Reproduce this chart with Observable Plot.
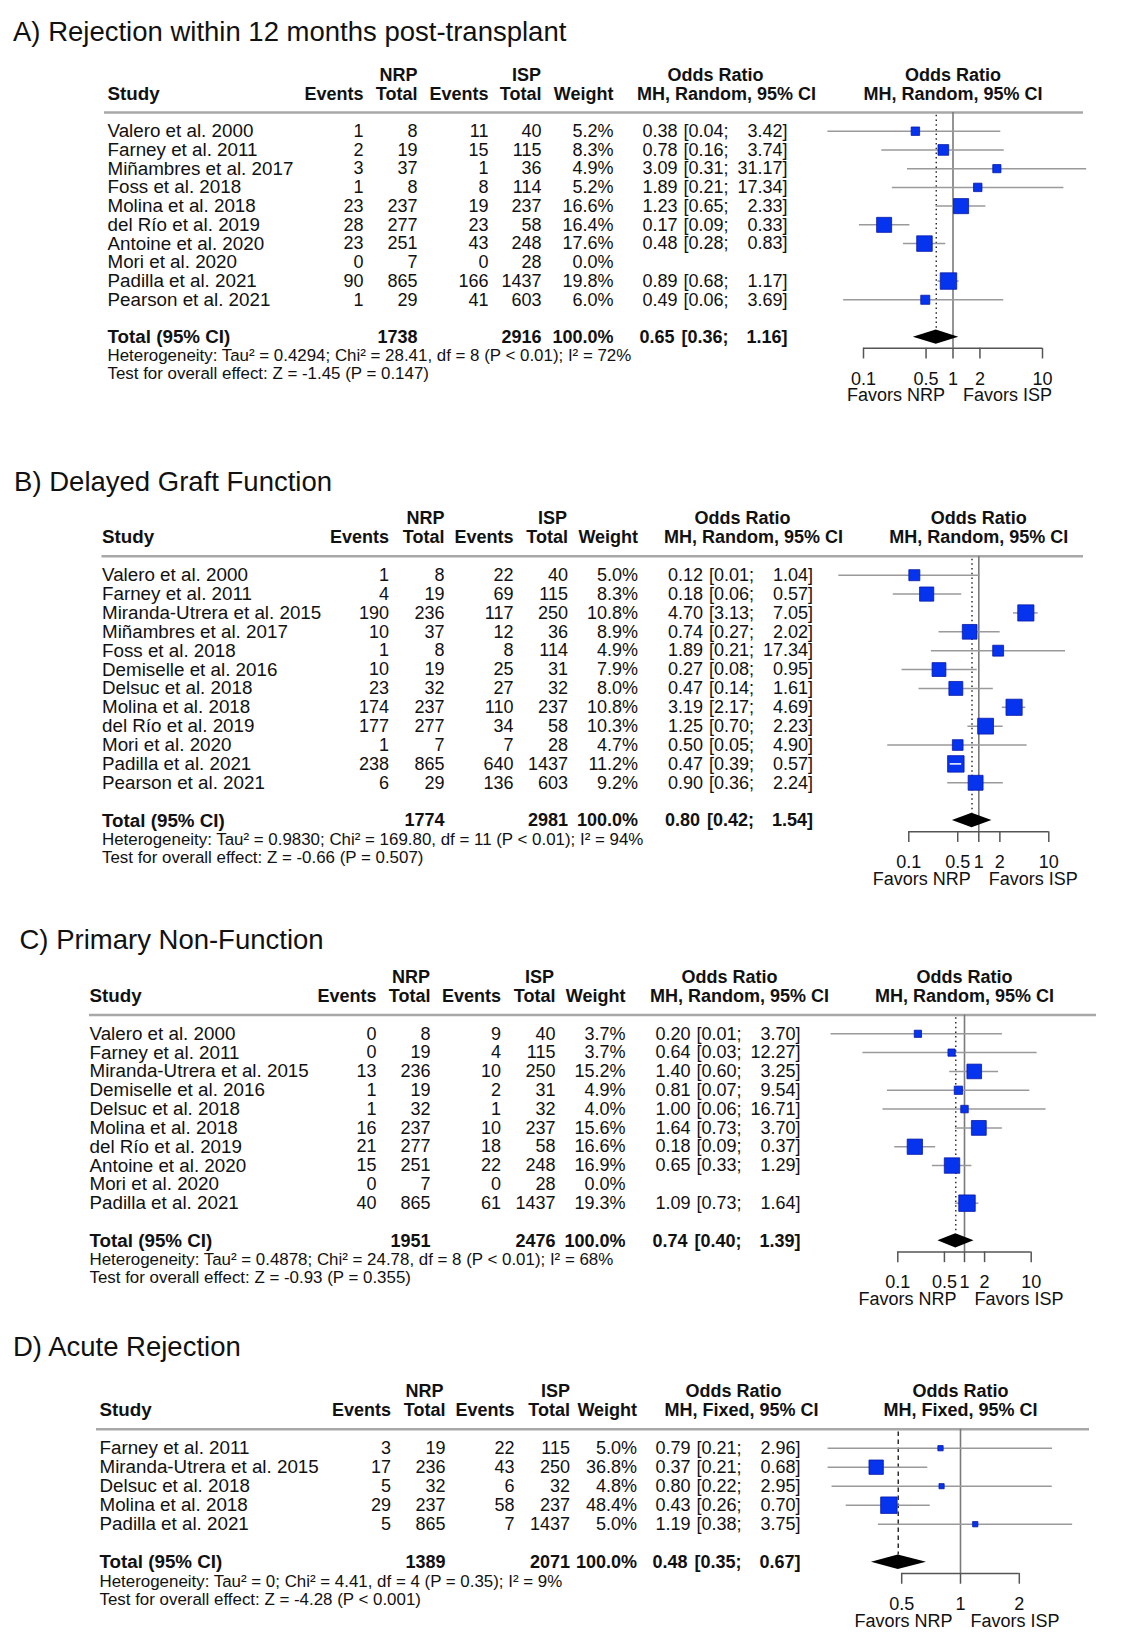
<!DOCTYPE html>
<html>
<head>
<meta charset="utf-8">
<script src="https://cdn.jsdelivr.net/npm/d3@7"></script>
<script src="https://cdn.jsdelivr.net/npm/@observablehq/plot@0.6"></script>
<style>
  html, body { margin: 0; padding: 0; background: #fff; overflow: hidden; }
  #wrap { position: relative; width: 1127px; height: 1646px; }
  #wrap svg { position: absolute; left: 0; top: 0; }
</style>
</head>
<body>
<div id="wrap"></div>
<script>
// ================= DATA =================
// Panel A
const titleA = "A) Rejection within 12 months post-transplant";
const modelA = "MH, Random, 95% CI";
const studiesA = ["Valero et al. 2000","Farney et al. 2011","Miñambres et al. 2017","Foss et al. 2018","Molina et al. 2018","del Río et al. 2019","Antoine et al. 2020","Mori et al. 2020","Padilla et al. 2021","Pearson et al. 2021"];
const nrpEventsA = [1, 2, 3, 1, 23, 28, 23, 0, 90, 1];
const nrpTotalA  = [8, 19, 37, 8, 237, 277, 251, 7, 865, 29];
const ispEventsA = [11, 15, 1, 8, 19, 23, 43, 0, 166, 41];
const ispTotalA  = [40, 115, 36, 114, 237, 58, 248, 28, 1437, 603];
const weightA    = [5.2, 8.3, 4.9, 5.2, 16.6, 16.4, 17.6, 0.0, 19.8, 6.0];
const orA        = [0.38, 0.78, 3.09, 1.89, 1.23, 0.17, 0.48, null, 0.89, 0.49];
const loA        = [0.04, 0.16, 0.31, 0.21, 0.65, 0.09, 0.28, null, 0.68, 0.06];
const hiA        = [3.42, 3.74, 31.17, 17.34, 2.33, 0.33, 0.83, null, 1.17, 3.69];
const totalsA    = [1738, 2916];
const pooledA    = [0.65, 0.36, 1.16];
const hetA  = "Heterogeneity: Tau² = 0.4294; Chi² = 28.41, df = 8 (P < 0.01); I² = 72%";
const testA = "Test for overall effect: Z = -1.45 (P = 0.147)";

// Panel B
const titleB = "B) Delayed Graft Function";
const modelB = "MH, Random, 95% CI";
const studiesB = ["Valero et al. 2000","Farney et al. 2011","Miranda-Utrera et al. 2015","Miñambres et al. 2017","Foss et al. 2018","Demiselle et al. 2016","Delsuc et al. 2018","Molina et al. 2018","del Río et al. 2019","Mori et al. 2020","Padilla et al. 2021","Pearson et al. 2021"];
const nrpEventsB = [1, 4, 190, 10, 1, 10, 23, 174, 177, 1, 238, 6];
const nrpTotalB  = [8, 19, 236, 37, 8, 19, 32, 237, 277, 7, 865, 29];
const ispEventsB = [22, 69, 117, 12, 8, 25, 27, 110, 34, 7, 640, 136];
const ispTotalB  = [40, 115, 250, 36, 114, 31, 32, 237, 58, 28, 1437, 603];
const weightB    = [5.0, 8.3, 10.8, 8.9, 4.9, 7.9, 8.0, 10.8, 10.3, 4.7, 11.2, 9.2];
const orB        = [0.12, 0.18, 4.70, 0.74, 1.89, 0.27, 0.47, 3.19, 1.25, 0.50, 0.47, 0.90];
const loB        = [0.01, 0.06, 3.13, 0.27, 0.21, 0.08, 0.14, 2.17, 0.70, 0.05, 0.39, 0.36];
const hiB        = [1.04, 0.57, 7.05, 2.02, 17.34, 0.95, 1.61, 4.69, 2.23, 4.90, 0.57, 2.24];
const totalsB    = [1774, 2981];
const pooledB    = [0.80, 0.42, 1.54];
const hetB  = "Heterogeneity: Tau² = 0.9830; Chi² = 169.80, df = 11 (P < 0.01); I² = 94%";
const testB = "Test for overall effect: Z = -0.66 (P = 0.507)";

// Panel C
const titleC = "C) Primary Non-Function";
const modelC = "MH, Random, 95% CI";
const studiesC = ["Valero et al. 2000","Farney et al. 2011","Miranda-Utrera et al. 2015","Demiselle et al. 2016","Delsuc et al. 2018","Molina et al. 2018","del Río et al. 2019","Antoine et al. 2020","Mori et al. 2020","Padilla et al. 2021"];
const nrpEventsC = [0, 0, 13, 1, 1, 16, 21, 15, 0, 40];
const nrpTotalC  = [8, 19, 236, 19, 32, 237, 277, 251, 7, 865];
const ispEventsC = [9, 4, 10, 2, 1, 10, 18, 22, 0, 61];
const ispTotalC  = [40, 115, 250, 31, 32, 237, 58, 248, 28, 1437];
const weightC    = [3.7, 3.7, 15.2, 4.9, 4.0, 15.6, 16.6, 16.9, 0.0, 19.3];
const orC        = [0.20, 0.64, 1.40, 0.81, 1.00, 1.64, 0.18, 0.65, null, 1.09];
const loC        = [0.01, 0.03, 0.60, 0.07, 0.06, 0.73, 0.09, 0.33, null, 0.73];
const hiC        = [3.70, 12.27, 3.25, 9.54, 16.71, 3.70, 0.37, 1.29, null, 1.64];
const totalsC    = [1951, 2476];
const pooledC    = [0.74, 0.40, 1.39];
const hetC  = "Heterogeneity: Tau² = 0.4878; Chi² = 24.78, df = 8 (P < 0.01); I² = 68%";
const testC = "Test for overall effect: Z = -0.93 (P = 0.355)";

// Panel D
const titleD = "D) Acute Rejection";
const modelD = "MH, Fixed, 95% CI";
const studiesD = ["Farney et al. 2011","Miranda-Utrera et al. 2015","Delsuc et al. 2018","Molina et al. 2018","Padilla et al. 2021"];
const nrpEventsD = [3, 17, 5, 29, 5];
const nrpTotalD  = [19, 236, 32, 237, 865];
const ispEventsD = [22, 43, 6, 58, 7];
const ispTotalD  = [115, 250, 32, 237, 1437];
const weightD    = [5.0, 36.8, 4.8, 48.4, 5.0];
const orD        = [0.79, 0.37, 0.80, 0.43, 1.19];
const loD        = [0.21, 0.21, 0.22, 0.26, 0.38];
const hiD        = [2.96, 0.68, 2.95, 0.70, 3.75];
const totalsD    = [1389, 2071];
const pooledD    = [0.48, 0.35, 0.67];
const hetD  = "Heterogeneity: Tau² = 0; Chi² = 4.41, df = 4 (P = 0.35); I² = 9%";
const testD = "Test for overall effect: Z = -4.28 (P < 0.001)";

// Axis ticks
const ticksWide  = [0.1, 0.5, 1, 2, 10];
const ticksNarrow = [0.5, 1, 2];
const favorLabels = ["Favors NRP", "Favors ISP"];

// ================= LAYOUT =================
const W = 1127, H = 1646;
const FONT = "'Liberation Sans', Arial, Helvetica, sans-serif";
const layouts = {
  A: {row0: 130.7, h: 18.73, titleX: 12.5, titleY: 40, studyX: 107, ne: 363, nt: 417, ie: 488, it: 541, w: 613, orEnd: 787,
      nrpC: 398, ispC: 526, orC: 715, mhC: 726, sep: [104, 1083], total: 11, xDomain: [0.1, 10], xRange: [863, 1042], dash: "1.5 3.2"},
  B: {row0: 574.7, h: 18.87, titleX: 13.6, titleY: 490.5, studyX: 101.5, ne: 388.5, nt: 444, ie: 513, it: 567.5, w: 637.6, orEnd: 812.5,
      nrpC: 425, ispC: 552, orC: 742, mhC: 753, sep: [101.5, 1083], total: 13, xDomain: [0.1, 10], xRange: [908.3, 1048.3], dash: "1.5 3.2"},
  C: {row0: 1033.3, h: 18.82, titleX: 19, titleY: 948.5, studyX: 89, ne: 376, nt: 430, ie: 500.5, it: 555, w: 625, orEnd: 800,
      nrpC: 410.5, ispC: 539, orC: 729, mhC: 739, sep: [89, 1096], total: 11, xDomain: [0.1, 10], xRange: [897.3, 1030.7], dash: "1.5 3.2"},
  D: {row0: 1447.7, h: 19, titleX: 12.5, titleY: 1355, studyX: 99, ne: 390.5, nt: 445, ie: 514, it: 569.5, w: 636.6, orEnd: 800,
      nrpC: 424, ispC: 555, orC: 733, mhC: 741, sep: [96, 1089], total: 6, xDomain: [0.5, 2], xRange: [901.2, 1018.8], dash: "4.5 3.5"}
};

const wrap = document.getElementById("wrap");
const f2 = d3.format(".2f"), f1 = d3.format(".1f");
const tickFmt = d => String(d);
const baseStyle = {fontFamily: FONT, fontSize: "18px", color: "#111", background: "transparent", overflow: "visible"};
const NAME_SIZE = 18.8, HET_SIZE = 16.9, TITLE_SIZE = 27.5, R_MAX = 9.3;

function drawPanel(P, L) {
  const rows = P.studies.map((study, i) => ({
    i, study, ne: P.ne[i], nt: P.nt[i], ie: P.ie[i], it: P.it[i], w: P.w[i],
    est: P.est[i], lo: P.lo[i], hi: P.hi[i]
  }));
  const withCI = rows.filter(d => d.est != null);
  const T = L.total;
  const toRow = px => (px - L.row0) / L.h;
  const y = {type: "linear", domain: [0, 1], range: [L.row0, L.row0 + L.h], axis: null};
  const estGap = 110, estGapBold = 113, loGap = 59;
  const wMax = d3.max(P.w);

  const table = Plot.plot({
    width: W, height: H,
    x: {type: "linear", domain: [0, W], range: [0, W], axis: null},
    y,
    style: baseStyle,
    marks: [
      Plot.text([P.title], {x: L.titleX, y: toRow(L.titleY), text: d => d, textAnchor: "start", lineAnchor: "bottom", fontSize: TITLE_SIZE}),
      // group headers
      Plot.text(["NRP"], {x: L.nrpC, y: -3, text: d => d, fontWeight: "bold"}),
      Plot.text(["ISP"], {x: L.ispC, y: -3, text: d => d, fontWeight: "bold"}),
      Plot.text(["Odds Ratio"], {x: L.orC, y: -3, text: d => d, fontWeight: "bold"}),
      Plot.text(["Study"], {x: L.studyX, y: -2, text: d => d, textAnchor: "start", fontWeight: "bold", fontSize: NAME_SIZE}),
      Plot.text(["Events", "Total", "Events", "Total", "Weight"], {
        x: (d, i) => [L.ne, L.nt, L.ie, L.it, L.w][i], y: -2, text: d => d, textAnchor: "end", fontWeight: "bold"}),
      Plot.text([P.model], {x: L.mhC, y: -2, text: d => d, fontWeight: "bold"}),
      Plot.ruleY([-1], {x1: L.sep[0], x2: L.sep[1], stroke: "#a8a8a8", strokeWidth: 2.5}),
      // study rows
      Plot.text(rows, {x: L.studyX, y: "i", text: "study", textAnchor: "start", fontSize: NAME_SIZE}),
      Plot.text(rows, {x: L.ne, y: "i", text: d => String(d.ne), textAnchor: "end"}),
      Plot.text(rows, {x: L.nt, y: "i", text: d => String(d.nt), textAnchor: "end"}),
      Plot.text(rows, {x: L.ie, y: "i", text: d => String(d.ie), textAnchor: "end"}),
      Plot.text(rows, {x: L.it, y: "i", text: d => String(d.it), textAnchor: "end"}),
      Plot.text(rows, {x: L.w, y: "i", text: d => f1(d.w) + "%", textAnchor: "end"}),
      Plot.text(withCI, {x: L.orEnd - estGap, y: "i", text: d => f2(d.est), textAnchor: "end"}),
      Plot.text(withCI, {x: L.orEnd - loGap, y: "i", text: d => "[" + f2(d.lo) + ";", textAnchor: "end"}),
      Plot.text(withCI, {x: L.orEnd, y: "i", text: d => f2(d.hi) + "]", textAnchor: "end"}),
      // total row
      Plot.text(["Total (95% CI)"], {x: L.studyX, y: T, text: d => d, textAnchor: "start", fontWeight: "bold", fontSize: NAME_SIZE}),
      Plot.text([P.totals[0]], {x: L.nt, y: T, text: d => String(d), textAnchor: "end", fontWeight: "bold"}),
      Plot.text([P.totals[1]], {x: L.it, y: T, text: d => String(d), textAnchor: "end", fontWeight: "bold"}),
      Plot.text([d3.sum(P.w)], {x: L.w, y: T, text: d => "100.0%", textAnchor: "end", fontWeight: "bold"}),
      Plot.text([P.pooled], {x: L.orEnd - estGapBold, y: T, text: d => f2(d[0]), textAnchor: "end", fontWeight: "bold"}),
      Plot.text([P.pooled], {x: L.orEnd - loGap, y: T, text: d => "[" + f2(d[1]) + ";", textAnchor: "end", fontWeight: "bold"}),
      Plot.text([P.pooled], {x: L.orEnd, y: T, text: d => f2(d[2]) + "]", textAnchor: "end", fontWeight: "bold"}),
      // heterogeneity
      Plot.text([P.het], {x: L.studyX, y: T + 1.0, text: d => d, textAnchor: "start", fontSize: HET_SIZE}),
      Plot.text([P.test], {x: L.studyX, y: T + 1.95, text: d => d, textAnchor: "start", fontSize: HET_SIZE})
    ]
  });

  // CI narrower than its box: drawn in white inside the box (as meta does)
  const pxPerDecade = (L.xRange[1] - L.xRange[0]) / (Math.log10(L.xDomain[1]) - Math.log10(L.xDomain[0]));
  const inside = withCI.filter(d => (Math.log10(d.hi) - Math.log10(d.lo)) * pxPerDecade < R_MAX * Math.sqrt(d.w / wMax) * Math.sqrt(Math.PI));

  const diamond = [
    {x: P.pooled[1], y1: T, y2: T},
    {x: P.pooled[0], y1: T - 0.38, y2: T + 0.38},
    {x: P.pooled[2], y1: T, y2: T}
  ];
  const axisRow = T + 0.59;
  const forest = Plot.plot({
    width: W, height: H,
    x: {type: "log", domain: L.xDomain, range: L.xRange, axis: null},
    y,
    r: {type: "sqrt", domain: [0, wMax], range: [0, R_MAX]},
    style: baseStyle,
    marks: [
      Plot.text(["Odds Ratio"], {x: 1, y: -3, text: d => d, fontWeight: "bold"}),
      Plot.text([P.model], {x: 1, y: -2, text: d => d, fontWeight: "bold"}),
      Plot.ruleX([1], {x: d => d, y1: -1, y2: axisRow, stroke: "#7a7a7a", strokeWidth: 1.6}),
      Plot.ruleX([P.pooled[0]], {x: d => d, y1: -0.85, y2: T - 0.38, stroke: "#222", strokeWidth: 1.4, strokeDasharray: L.dash}),
      Plot.ruleY(withCI, {y: "i", x1: "lo", x2: "hi", stroke: "#9a9a9a", strokeWidth: 1.5}),
      Plot.dot(withCI, {x: "est", y: "i", r: "w", symbol: "square", fill: "#0533ee", stroke: "#0a1aa8", strokeWidth: 0.8}),
      Plot.ruleY(inside, {y: "i", x1: "lo", x2: "hi", stroke: "#fff", strokeWidth: 1.5}),
      Plot.area(diamond, {x1: "x", y1: "y1", y2: "y2", fill: "#000"}),
      Plot.ruleY([axisRow], {y: d => d, x1: L.xDomain[0], x2: L.xDomain[1], stroke: "#555", strokeWidth: 1.5}),
      Plot.ruleX(P.ticks, {x: d => d, y1: axisRow, y2: axisRow + 0.57, stroke: "#555", strokeWidth: 1.5}),
      Plot.text(P.ticks, {x: d => d, y: T + 2.22, text: tickFmt}),
      Plot.text([favorLabels[0]], {x: 1, y: T + 3.12, text: d => d, textAnchor: "end", dx: -8}),
      Plot.text([favorLabels[1]], {x: 1, y: T + 3.12, text: d => d, textAnchor: "start", dx: 10})
    ]
  });
  wrap.appendChild(table);
  wrap.appendChild(forest);
}

drawPanel({title: titleA, model: modelA, studies: studiesA, ne: nrpEventsA, nt: nrpTotalA, ie: ispEventsA, it: ispTotalA,
  w: weightA, est: orA, lo: loA, hi: hiA, totals: totalsA, pooled: pooledA, het: hetA, test: testA, ticks: ticksWide}, layouts.A);
drawPanel({title: titleB, model: modelB, studies: studiesB, ne: nrpEventsB, nt: nrpTotalB, ie: ispEventsB, it: ispTotalB,
  w: weightB, est: orB, lo: loB, hi: hiB, totals: totalsB, pooled: pooledB, het: hetB, test: testB, ticks: ticksWide}, layouts.B);
drawPanel({title: titleC, model: modelC, studies: studiesC, ne: nrpEventsC, nt: nrpTotalC, ie: ispEventsC, it: ispTotalC,
  w: weightC, est: orC, lo: loC, hi: hiC, totals: totalsC, pooled: pooledC, het: hetC, test: testC, ticks: ticksWide}, layouts.C);
drawPanel({title: titleD, model: modelD, studies: studiesD, ne: nrpEventsD, nt: nrpTotalD, ie: ispEventsD, it: ispTotalD,
  w: weightD, est: orD, lo: loD, hi: hiD, totals: totalsD, pooled: pooledD, het: hetD, test: testD, ticks: ticksNarrow}, layouts.D);
</script>
</body>
</html>
